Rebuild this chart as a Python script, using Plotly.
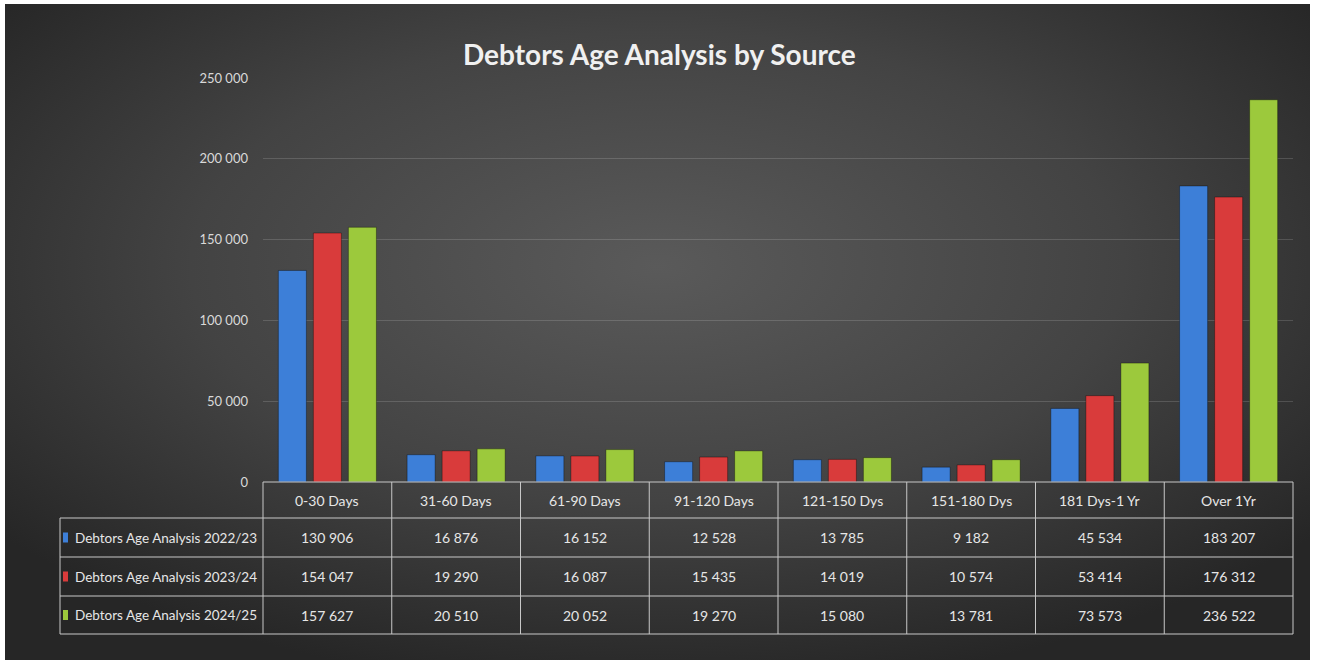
import base64
import plotly.graph_objects as go

categories = ["0-30 Days", "31-60 Days", "61-90 Days", "91-120 Days",
              "121-150 Dys", "151-180 Dys", "181 Dys-1 Yr", "Over 1Yr"]
series_names = ["Debtors Age Analysis 2022/23",
                "Debtors Age Analysis 2023/24",
                "Debtors Age Analysis 2024/25"]
values_2022_23 = [130906, 16876, 16152, 12528, 13785, 9182, 45534, 183207]
values_2023_24 = [154047, 19290, 16087, 15435, 14019, 10574, 53414, 176312]
values_2024_25 = [157627, 20510, 20052, 19270, 15080, 13781, 73573, 236522]
y_ticks = [0, 50000, 100000, 150000, 200000, 250000]

colors = ["#3d7fd8", "#d93b3b", "#9cc93c"]
all_values = [values_2022_23, values_2023_24, values_2024_25]

W, H = 1317, 664
L, R, T, B = 263, 1293, 78, 482
pw, ph = R - L, B - T


def px(x):
    return (x - L) / pw


def py(y):
    return (B - y) / ph


FONT = "Lato, Liberation Sans, sans-serif"

fig = go.Figure()
for name, vals, col in zip(series_names, all_values, colors):
    fig.add_trace(go.Bar(
        x=categories, y=vals, name=name,
        marker=dict(color=col, line=dict(color="rgba(0,0,0,0.35)", width=1)),
        hoverinfo="x+y+name",
    ))

# gradient background as svg image
svg = f'''<svg xmlns="http://www.w3.org/2000/svg" width="{W}" height="{H}">
<defs><radialGradient id="g" cx="50%" cy="40%" r="65%">
<stop offset="0%" stop-color="#5a5a5a"/>
<stop offset="55%" stop-color="#434343"/>
<stop offset="100%" stop-color="#262626"/>
</radialGradient></defs>
<rect x="0" y="0" width="{W}" height="{H}" fill="#ffffff"/>
<rect x="5" y="4" width="1305" height="656" fill="url(#g)"/>
</svg>'''
uri = "data:image/svg+xml;base64," + base64.b64encode(svg.encode()).decode()

shapes = []
line_col = "#c8c8c8"


def hline(x0, x1, y):
    shapes.append(dict(type="line", xref="paper", yref="paper",
                       x0=px(x0), x1=px(x1), y0=py(y), y1=py(y),
                       line=dict(color=line_col, width=1)))


def vline(x, y0, y1):
    shapes.append(dict(type="line", xref="paper", yref="paper",
                       x0=px(x), x1=px(x), y0=py(y0), y1=py(y1),
                       line=dict(color=line_col, width=1)))


row_edges = [482, 518, 557, 596, 634]
hline(263, 1293, 482)
for y in row_edges[1:]:
    hline(60, 1293, y)
vline(60, 518, 634)
ncat = len(categories)
for i in range(ncat + 1):
    vline(L + pw * i / ncat, 482, 634)

annotations = []
annotations.append(dict(text="<b>Debtors Age Analysis by Source</b>", xref="paper", yref="paper",
                        x=px(659), y=py(54), showarrow=False,
                        font=dict(family=FONT, size=28, color="#f0f0f0"),
                        xanchor="center", yanchor="middle"))


def fmt(v):
    return f"{v:,}".replace(",", " ")


for i, c in enumerate(categories):
    annotations.append(dict(text=c, xref="x", yref="paper", x=i, y=py(500),
                            showarrow=False, xanchor="center", yanchor="middle",
                            font=dict(family=FONT, size=14, color="#e6e6e6")))

for r, (name, vals, col) in enumerate(zip(series_names, all_values, colors)):
    yc = (row_edges[r + 1] + row_edges[r + 2]) / 2
    annotations.append(dict(text=name, xref="paper", yref="paper", x=px(73), y=py(yc),
                            showarrow=False, xanchor="left", yanchor="middle",
                            font=dict(family=FONT, size=13.5, color="#e6e6e6")))
    shapes.append(dict(type="rect", xref="paper", yref="paper",
                       x0=px(63), x1=px(68), y0=py(yc - 5), y1=py(yc + 5),
                       fillcolor=col, line=dict(width=0)))
    for i, v in enumerate(vals):
        annotations.append(dict(text=fmt(v), xref="x", yref="paper", x=i, y=py(yc),
                                showarrow=False, xanchor="center", yanchor="middle",
                                font=dict(family=FONT, size=14, color="#e6e6e6")))

fig.update_layout(
    width=W, height=H,
    margin=dict(l=L, r=W - R, t=T, b=H - B),
    paper_bgcolor="#ffffff",
    plot_bgcolor="rgba(0,0,0,0)",
    separators=". ",
    barmode="group", bargap=0.184, bargroupgap=0.2,
    showlegend=False,
    images=[dict(source=uri, xref="paper", yref="paper",
                 x=px(0), y=py(0), sizex=W / pw, sizey=H / ph,
                 sizing="stretch", xanchor="left", yanchor="top", layer="below")],
    shapes=shapes,
    annotations=annotations,
    xaxis=dict(showticklabels=False, showgrid=False, zeroline=False, showline=False,
               range=[-0.5, ncat - 0.5], fixedrange=True),
    yaxis=dict(range=[0, 250000], tickvals=y_ticks, tickformat=",d",
               showgrid=True, gridcolor="rgba(255,255,255,0.15)", gridwidth=1,
               zeroline=False, showline=False, ticklabelstandoff=14,
               tickfont=dict(family=FONT, size=13, color="#d9d9d9"), fixedrange=True),
)

fig.write_html("out.html", config={"displayModeBar": False},
               post_script="document.body.style.margin='0';document.body.style.overflow='hidden';")
